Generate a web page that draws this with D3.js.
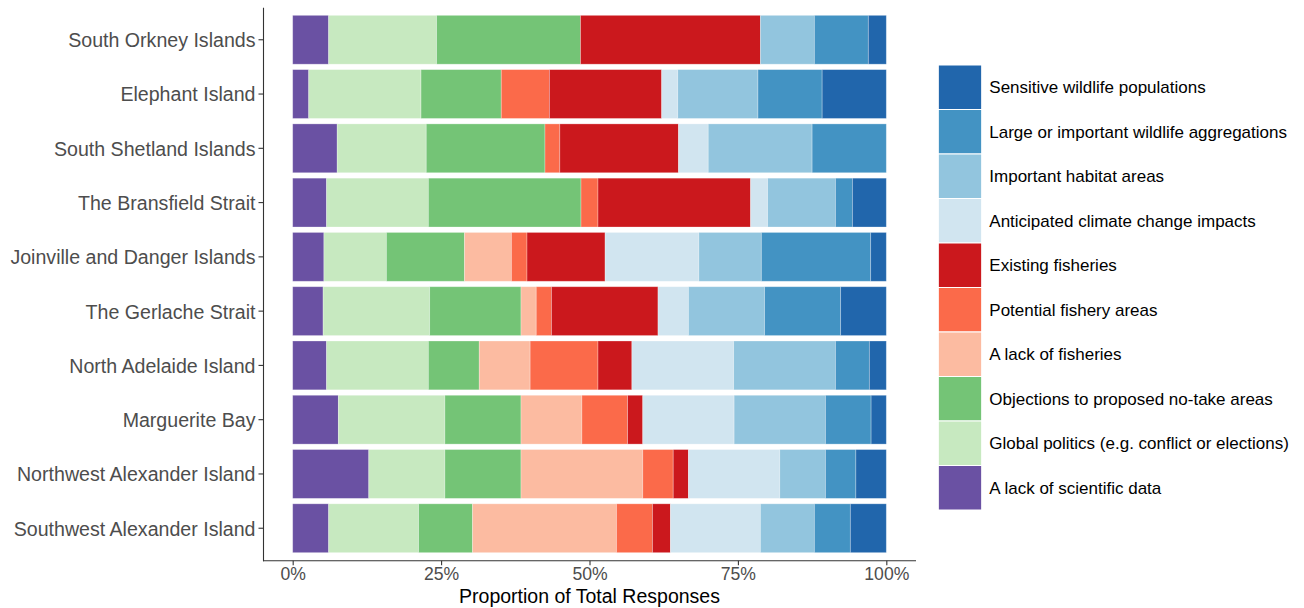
<!DOCTYPE html>
<html><head><meta charset="utf-8">
<script src="https://cdn.jsdelivr.net/npm/d3@7"></script>
<style>body{margin:0;background:#fff}text{font-family:"Liberation Sans",Arial,sans-serif}</style>
</head><body><svg id="c" width="1304" height="608"></svg>
<script>
const regions = ["South Orkney Islands","Elephant Island","South Shetland Islands","The Bransfield Strait","Joinville and Danger Islands","The Gerlache Strait","North Adelaide Island","Marguerite Bay","Northwest Alexander Island","Southwest Alexander Island"];
// series in stacking order (left to right)
const seriesNames = ["A lack of scientific data","Global politics (e.g. conflict or elections)","Objections to proposed no-take areas","A lack of fisheries","Potential fishery areas","Existing fisheries","Anticipated climate change impacts","Important habitat areas","Large or important wildlife aggregations","Sensitive wildlife populations"];
const seriesColors = ["#6a51a3","#c7e9c0","#74c476","#fcbba1","#fb6a4a","#cb181d","#d1e5f0","#92c5de","#4393c3","#2166ac"];
// response counts per region (same order as regions)
const lackScientific   = [2,1,3,2,2,2,2,3,5,2];
const globalPolitics   = [6,7,6,6,4,7,6,7,5,5];
const objections       = [8,5,8,9,5,6,3,5,5,3];
const lackFisheries    = [0,0,0,0,3,1,3,4,8,8];
const potentialFishery = [0,3,1,1,1,1,4,3,2,2];
const existingFisheries= [10,7,8,9,5,7,2,1,1,1];
const climateChange    = [0,1,2,1,6,2,6,6,6,5];
const habitatAreas     = [3,5,7,4,4,5,6,6,3,3];
const aggregations     = [3,4,5,1,7,5,2,3,2,2];
const sensitive        = [1,4,0,2,1,3,1,1,2,2];
const xTicks = [0,0.25,0.5,0.75,1];
const xTitle = "Proportion of Total Responses";

const seriesValues = [lackScientific,globalPolitics,objections,lackFisheries,potentialFishery,existingFisheries,climateChange,habitatAreas,aggregations,sensitive];
const table = regions.map((r,i)=>{const o={region:r}; seriesNames.forEach((s,j)=>o[s]=seriesValues[j][i]); return o;});

const svg = d3.select("#c");
const panel = {left:263, right:916, top:7.2, bottom:560.8};
const x = d3.scaleLinear().domain([-0.05,1.05]).range([panel.left,panel.right]);
const y = d3.scaleBand().domain(regions).range([panel.top,panel.bottom]).paddingInner(0.1).paddingOuter(0.15);
const color = d3.scaleOrdinal().domain(seriesNames).range(seriesColors);

const stack = d3.stack().keys(seriesNames).offset(d3.stackOffsetExpand);
const layers = stack(table);

svg.append("g").selectAll("g").data(layers).join("g")
  .attr("fill", d=>color(d.key))
  .selectAll("rect").data(d=>d).join("rect")
  .attr("x", d=>x(d[0])).attr("width", d=>Math.max(0,x(d[1])-x(d[0])))
  .attr("y", d=>y(d.data.region)).attr("height", y.bandwidth())
  .attr("stroke","rgba(255,255,255,0.35)").attr("stroke-width",0.8);

// axes
const yAxis = svg.append("g").attr("transform",`translate(${panel.left},0)`)
  .call(d3.axisLeft(y).tickSize(4.5).tickPadding(3).tickSizeOuter(0));
yAxis.select(".domain").attr("stroke","#333").attr("stroke-width",1.1);
yAxis.selectAll(".tick line").attr("stroke","#333").attr("stroke-width",1.1);
yAxis.selectAll(".tick text").attr("fill","#4d4d4d").style("font-size","19.6px").attr("dy","0.38em");

const xAxis = svg.append("g").attr("transform",`translate(0,${panel.bottom})`)
  .call(d3.axisBottom(x).tickValues(xTicks).tickFormat(d3.format(".0%")).tickSize(4.5).tickPadding(2).tickSizeOuter(0));
xAxis.select(".domain").attr("d",`M${panel.left},0H${panel.right}`).attr("stroke","#333").attr("stroke-width",1.1);
xAxis.selectAll(".tick line").attr("stroke","#333").attr("stroke-width",1.1);
xAxis.selectAll(".tick text").attr("fill","#4d4d4d").style("font-size","17.6px");

svg.append("text").attr("x",(x(0)+x(1))/2).attr("y",603).attr("text-anchor","middle")
  .style("font-size","19.5px").attr("fill","#000").text(xTitle);

// legend (reversed order)
const legendItems = seriesNames.slice().reverse();
const keyH = 44.5, keyW = 43.4, lx = 938.3, ly = 65;
const lg = svg.append("g");
legendItems.forEach((s,i)=>{
  lg.append("rect").attr("x",lx).attr("y",ly+i*keyH).attr("width",keyW).attr("height",keyH)
    .attr("fill",color(s)).attr("stroke","#fff").attr("stroke-width",1);
  lg.append("text").attr("x",989.3).attr("y",ly+i*keyH+keyH/2).attr("dy","0.35em")
    .style("font-size","17px").attr("fill","#000").text(s);
});
</script></body></html>
